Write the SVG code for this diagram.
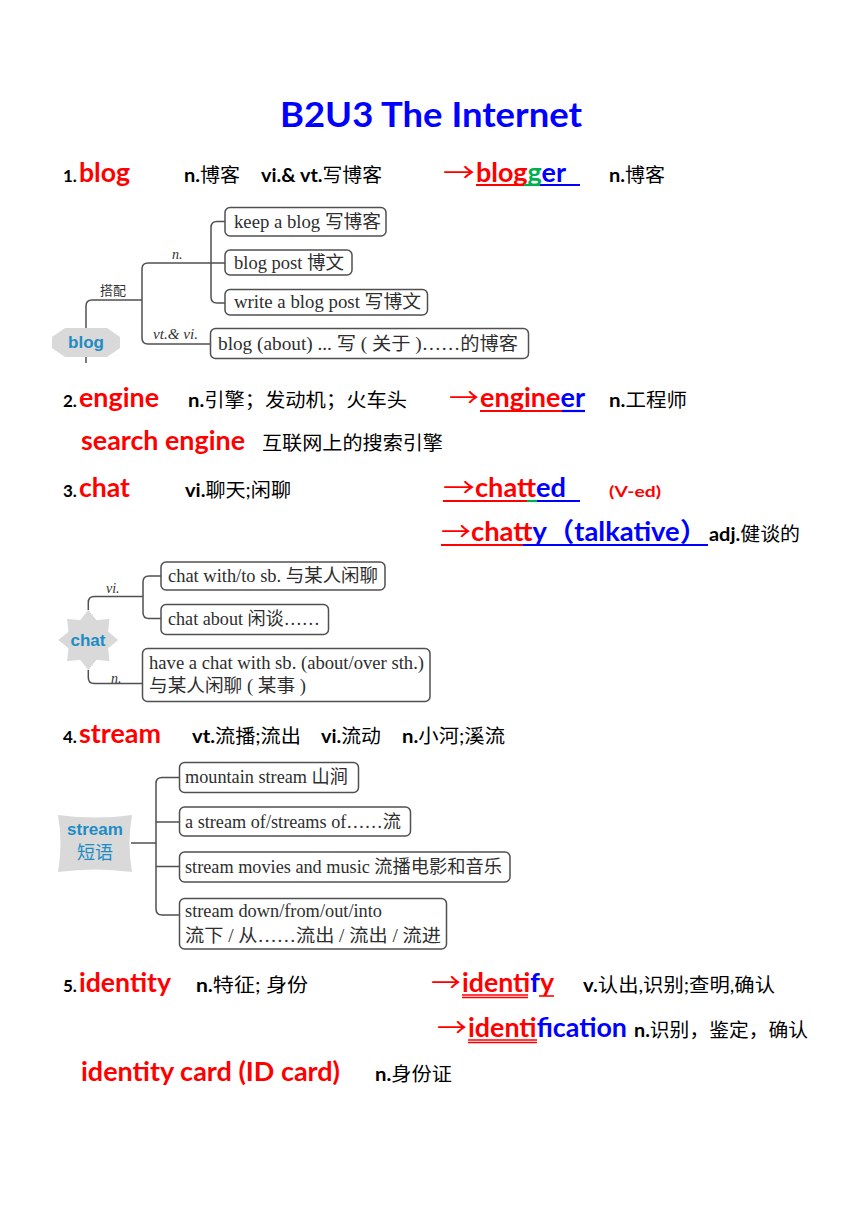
<svg xmlns="http://www.w3.org/2000/svg" width="860" height="1216" viewBox="0 0 860 1216">
<style>
.bg{fill:#ffffff}
.title{font-family:Lato,"Liberation Sans","Noto Sans CJK SC",sans-serif;font-weight:bold;font-size:35px;fill:#0000ff}
.num{font-family:Lato,"Liberation Sans",sans-serif;font-weight:bold;font-size:17px;fill:#000}
.small{font-family:Lato,"Liberation Sans",sans-serif;font-weight:bold;font-size:15px}
.word{font-family:Lato,"Liberation Sans","Noto Sans CJK SC",sans-serif;font-weight:bold;font-size:26px}
.desc{font-family:Lato,"Liberation Sans","Noto Sans CJK SC",sans-serif;font-size:19px;fill:#000}
.b{font-weight:bold}
.arrow{font-family:"Noto Sans CJK SC","DejaVu Sans",sans-serif;font-size:26px;fill:#ff0000}
.red{fill:#ff0000}
.green{fill:#00b050}
.blue{fill:#0000ff}
.ul{stroke-width:2.2;fill:none}
.ulr{stroke:#ff0000}
.ulg{stroke:#00b050}
.ulb{stroke:#0000ff}
.box{fill:#ffffff;stroke:#505050;stroke-width:1.5}
.bt{font-family:"Liberation Serif","Noto Sans CJK SC",serif;font-size:18px;fill:#2e2e2e}
.lab{font-family:"Liberation Serif","Noto Sans CJK SC",serif;font-size:14px;fill:#333;font-style:italic}
.labc{font-family:"Noto Sans CJK SC",serif;font-size:13px;fill:#333}
.tag{fill:#d9d9d9}
.tagt{font-family:"Liberation Sans",Lato,"Noto Sans CJK SC",sans-serif;font-weight:bold;font-size:17px;fill:#1e8cc4}
.tagc{font-family:"Noto Sans CJK SC",sans-serif;font-weight:normal;font-size:18px;fill:#1e8cc4}
.conn{fill:none;stroke:#505050;stroke-width:1.5}
</style>
<rect class="bg" x="0" y="0" width="860" height="1216"/>

<g id="title">
<text class="title" x="280" y="127" textLength="302" lengthAdjust="spacingAndGlyphs">B2U3 The Internet</text>
</g>

<g id="item1">
<text class="num" x="63" y="182">1.</text>
<text class="word red" x="79" y="182" textLength="51" lengthAdjust="spacingAndGlyphs">blog</text>
<text class="desc" x="184" y="182" textLength="56" lengthAdjust="spacingAndGlyphs"><tspan class="b">n.</tspan>博客</text>
<text class="desc" x="261" y="182" textLength="121" lengthAdjust="spacingAndGlyphs"><tspan class="b">vi.&amp; vt.</tspan>写博客</text>
<text class="arrow" x="443" y="182" textLength="32" lengthAdjust="spacingAndGlyphs">→</text>
<text class="word" x="476" y="182" textLength="90" lengthAdjust="spacingAndGlyphs"><tspan class="red">blog</tspan><tspan class="green">g</tspan><tspan class="blue">er</tspan></text>
<line class="ul ulr" x1="476" y1="185" x2="524" y2="185"/>
<line class="ul ulg" x1="524" y1="185" x2="540" y2="185"/>
<line class="ul ulb" x1="540" y1="185" x2="580" y2="185"/>
<text class="desc" x="609" y="182" textLength="56" lengthAdjust="spacingAndGlyphs"><tspan class="b">n.</tspan>博客</text>
</g>

<g id="blog-map">
<g id="blog-tag">
<polygon class="tag" points="65,328 107,328 120,337 120,348 107,357 65,357 52,348 52,337"/>
<text class="tagt" x="86" y="348" text-anchor="middle">blog</text>
</g>
<g id="blog-n1"><rect class="box" x="225" y="207.5" width="161" height="28.5" rx="5"/><text class="bt" x="234" y="228" textLength="147" lengthAdjust="spacingAndGlyphs">keep a blog 写博客</text></g>
<g id="blog-n2"><rect class="box" x="225" y="250" width="127" height="25" rx="5"/><text class="bt" x="234" y="269" textLength="110" lengthAdjust="spacingAndGlyphs">blog post 博文</text></g>
<g id="blog-n3"><rect class="box" x="225" y="289.5" width="202.5" height="25.5" rx="5"/><text class="bt" x="234" y="308" textLength="187" lengthAdjust="spacingAndGlyphs">write a blog post 写博文</text></g>
<g id="blog-n4"><rect class="box" x="210.5" y="328.5" width="318" height="30" rx="5"/><text class="bt" x="218" y="350" textLength="300" lengthAdjust="spacingAndGlyphs">blog (about) ... 写 ( 关于 )……的博客</text></g>
<text class="labc" x="100" y="295">搭配</text>
<text class="lab" x="172" y="259">n.</text>
<text class="lab" x="153" y="339" textLength="45" lengthAdjust="spacingAndGlyphs">vt.&amp; vi.</text>
</g>

<g id="item2">
<text class="num" x="63" y="407">2.</text>
<text class="word red" x="79" y="407" textLength="80" lengthAdjust="spacingAndGlyphs">engine</text>
<text class="desc" x="188" y="407" textLength="219" lengthAdjust="spacingAndGlyphs"><tspan class="b">n.</tspan>引擎；发动机；火车头</text>
<text class="arrow" x="449" y="407" textLength="30" lengthAdjust="spacingAndGlyphs">→</text>
<text class="word" x="480" y="407" textLength="105" lengthAdjust="spacingAndGlyphs"><tspan class="red">engine</tspan><tspan class="blue">er</tspan></text>
<line class="ul ulr" x1="480" y1="411" x2="562" y2="411"/>
<line class="ul ulb" x1="562" y1="411" x2="585" y2="411"/>
<text class="desc" x="609" y="407" textLength="78" lengthAdjust="spacingAndGlyphs"><tspan class="b">n.</tspan>工程师</text>
<text class="word red" x="81" y="450" textLength="164" lengthAdjust="spacingAndGlyphs">search engine</text>
<text class="desc" x="262" y="450" textLength="181" lengthAdjust="spacingAndGlyphs">互联网上的搜索引擎</text>
</g>

<g id="item3">
<text class="num" x="63" y="497">3.</text>
<text class="word red" x="79" y="497" textLength="51" lengthAdjust="spacingAndGlyphs">chat</text>
<text class="desc" x="185" y="497" textLength="106" lengthAdjust="spacingAndGlyphs"><tspan class="b">vi.</tspan>聊天;闲聊</text>
<text class="arrow" x="443" y="497" textLength="32" lengthAdjust="spacingAndGlyphs">→</text>
<text class="word" x="475" y="497" textLength="91" lengthAdjust="spacingAndGlyphs"><tspan class="red">chat</tspan><tspan class="green">t</tspan><tspan class="blue">ed</tspan></text>
<line class="ul ulr" x1="443" y1="501" x2="527" y2="501"/>
<line class="ul ulg" x1="527" y1="501" x2="537" y2="501"/>
<line class="ul ulb" x1="537" y1="501" x2="580" y2="501"/>
<text class="small red" x="609" y="497" textLength="52" lengthAdjust="spacingAndGlyphs">(V-ed)</text>
<text class="arrow" x="441" y="541" textLength="30" lengthAdjust="spacingAndGlyphs">→</text>
<text class="word" x="471" y="541" textLength="236" lengthAdjust="spacingAndGlyphs"><tspan class="red">chat</tspan><tspan class="blue">ty（talkative）</tspan></text>
<line class="ul ulr" x1="441" y1="545" x2="523" y2="545"/>
<line class="ul ulb" x1="523" y1="545" x2="708" y2="545"/>
<text class="desc" x="709" y="541" textLength="91" lengthAdjust="spacingAndGlyphs"><tspan class="b">adj.</tspan>健谈的</text>
</g>

<g id="chat-map">
<g id="chat-tag">
<polygon class="tag" points="88.3,610 96.5,620.2 109.5,618.8 108.1,631.8 118.3,640 108.1,648.2 109.5,661.2 96.5,659.8 88.3,670 80.1,659.8 67.1,661.2 68.5,648.2 58.3,640 68.5,631.8 67.1,618.8 80.1,620.2"/>
<text class="tagt" x="88" y="646" text-anchor="middle">chat</text>
</g>
<g id="chat-n1"><rect class="box" x="161" y="562" width="224" height="28" rx="5"/><text class="bt" x="168" y="582" textLength="210" lengthAdjust="spacingAndGlyphs">chat with/to sb. 与某人闲聊</text></g>
<g id="chat-n2"><rect class="box" x="161" y="604.5" width="167.5" height="30" rx="5"/><text class="bt" x="168" y="625" textLength="152" lengthAdjust="spacingAndGlyphs">chat about 闲谈……</text></g>
<g id="chat-n3"><rect class="box" x="142.5" y="648.5" width="287.5" height="53" rx="5"/><text class="bt" x="149" y="669" textLength="275" lengthAdjust="spacingAndGlyphs">have a chat with sb. (about/over sth.)</text><text class="bt" x="149" y="692" textLength="157" lengthAdjust="spacingAndGlyphs">与某人闲聊 ( 某事 )</text></g>
<text class="lab" x="106" y="593">vi.</text>
<text class="lab" x="111" y="683">n.</text>
</g>

<g id="item4">
<text class="num" x="63" y="743">4.</text>
<text class="word red" x="79" y="743" textLength="82" lengthAdjust="spacingAndGlyphs">stream</text>
<text class="desc" x="192" y="743" textLength="109" lengthAdjust="spacingAndGlyphs"><tspan class="b">vt.</tspan>流播;流出</text>
<text class="desc" x="321" y="743" textLength="60" lengthAdjust="spacingAndGlyphs"><tspan class="b">vi.</tspan>流动</text>
<text class="desc" x="402" y="743" textLength="103" lengthAdjust="spacingAndGlyphs"><tspan class="b">n.</tspan>小河;溪流</text>
</g>

<g id="stream-map">
<g id="stream-tag">
<path class="tag" d="M58,815 Q95,820 132,815 Q127,843 132,872 Q95,867 58,872 Q63,843 58,815 Z"/>
<text class="tagt" x="95" y="835" text-anchor="middle">stream</text>
<text class="tagc" x="95" y="859" text-anchor="middle">短语</text>
</g>
<g id="stream-n1"><rect class="box" x="179.5" y="762.5" width="179" height="30" rx="5"/><text class="bt" x="185" y="783" textLength="163" lengthAdjust="spacingAndGlyphs">mountain stream 山涧</text></g>
<g id="stream-n2"><rect class="box" x="179.5" y="807" width="231" height="29" rx="5"/><text class="bt" x="185" y="828" textLength="216" lengthAdjust="spacingAndGlyphs">a stream of/streams of……流</text></g>
<g id="stream-n3"><rect class="box" x="179.5" y="852" width="330.5" height="30" rx="5"/><text class="bt" x="185" y="873" textLength="317" lengthAdjust="spacingAndGlyphs">stream movies and music 流播电影和音乐</text></g>
<g id="stream-n4"><rect class="box" x="179.5" y="898.5" width="267" height="50.5" rx="5"/><text class="bt" x="185" y="917" textLength="197" lengthAdjust="spacingAndGlyphs">stream down/from/out/into</text><text class="bt" x="185" y="942" textLength="256" lengthAdjust="spacingAndGlyphs">流下 / 从……流出 / 流出 / 流进</text></g>
</g>

<g id="item5">
<text class="num" x="63" y="992">5.</text>
<text class="word red" x="79" y="992" textLength="92" lengthAdjust="spacingAndGlyphs">identity</text>
<text class="desc" x="196" y="992" textLength="112" lengthAdjust="spacingAndGlyphs"><tspan class="b">n.</tspan>特征; 身份</text>
<text class="arrow" x="431" y="992" textLength="30" lengthAdjust="spacingAndGlyphs">→</text>
<text class="word" x="462" y="992" textLength="92" lengthAdjust="spacingAndGlyphs"><tspan class="red">identi</tspan><tspan class="blue">f</tspan><tspan class="red">y</tspan></text>
<line class="ulr" stroke-width="1.4" x1="462" y1="995" x2="528" y2="995"/>
<line class="ulr" stroke-width="1.4" x1="462" y1="997.5" x2="528" y2="997.5"/>
<line class="ulr" stroke-width="1.6" x1="539" y1="996" x2="554" y2="996"/>
<text class="desc" x="583" y="992" textLength="192" lengthAdjust="spacingAndGlyphs"><tspan class="b">v.</tspan>认出,识别;查明,确认</text>
<text class="arrow" x="437" y="1037" textLength="30" lengthAdjust="spacingAndGlyphs">→</text>
<text class="word" x="468" y="1037" textLength="159" lengthAdjust="spacingAndGlyphs"><tspan class="red">identi</tspan><tspan class="blue">fication</tspan></text>
<line class="ulr" stroke-width="1.4" x1="468" y1="1040" x2="537" y2="1040"/>
<line class="ulr" stroke-width="1.4" x1="468" y1="1042.5" x2="537" y2="1042.5"/>
<text class="desc" x="634" y="1037" textLength="174" lengthAdjust="spacingAndGlyphs"><tspan class="b">n.</tspan>识别，鉴定，确认</text>
<text class="word red" x="81" y="1081" textLength="259" lengthAdjust="spacingAndGlyphs">identity card (ID card)</text>
<text class="desc" x="375" y="1081" textLength="77" lengthAdjust="spacingAndGlyphs"><tspan class="b">n.</tspan>身份证</text>
</g>

<g id="connectors">
<path class="conn" d="M86,328 V306 Q86,300 92,300 H142"/>
<path class="conn" d="M86,357 V363"/>
<path class="conn" d="M210.5,344 H148 Q142,344 142,338 V269 Q142,263 148,263 H225"/>
<path class="conn" d="M225,221.5 H217 Q211,221.5 211,227.5 V297 Q211,303 217,303 H225"/>
<path class="conn" d="M88.3,610 V602.5 Q88.3,596.5 94.3,596.5 H143"/>
<path class="conn" d="M161,576 H149 Q143,576 143,582 V612.5 Q143,618.5 149,618.5 H161"/>
<path class="conn" d="M88.3,670 V677.5 Q88.3,683.5 94.3,683.5 H142.5"/>
<path class="conn" d="M131,843 H156"/>
<path class="conn" d="M179.5,777.5 H162 Q156,777.5 156,783.5 V909 Q156,915 162,915 H179.5"/>
<path class="conn" d="M156,822 H179.5 M156,866.5 H179.5"/>
</g>
</svg>
